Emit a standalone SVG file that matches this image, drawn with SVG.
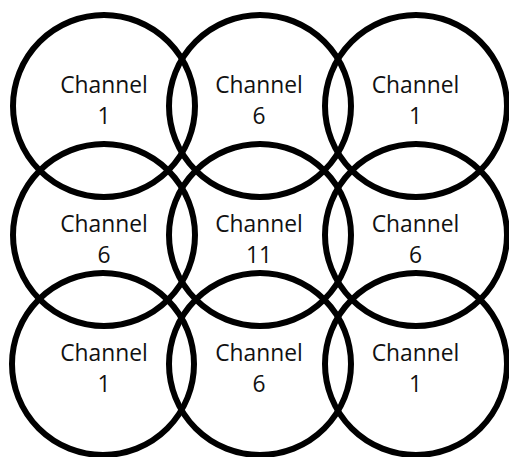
<svg xmlns="http://www.w3.org/2000/svg" width="509" height="457" viewBox="0 0 509 457">
<style>
.c{fill:none;stroke:#000;stroke-width:6}
.t{font-family:"Open Sans","Liberation Sans",sans-serif;font-size:22.8px;fill:#111;text-anchor:middle}
</style>
<rect width="509" height="457" fill="#fff"/>
<g id="n11"><circle class="c" cx="104" cy="106" r="91"/><text class="t" x="104" y="93">Channel</text><text class="t" x="104" y="124">1</text></g>
<g id="n12"><circle class="c" cx="260" cy="106" r="91"/><text class="t" x="259" y="93">Channel</text><text class="t" x="259" y="124">6</text></g>
<g id="n13"><circle class="c" cx="416" cy="106" r="91"/><text class="t" x="415.5" y="93">Channel</text><text class="t" x="415.5" y="124">1</text></g>
<g id="n21"><circle class="c" cx="104" cy="235" r="91"/><text class="t" x="104" y="232">Channel</text><text class="t" x="104" y="263">6</text></g>
<g id="n22"><circle class="c" cx="260" cy="235" r="91"/><text class="t" x="259" y="232">Channel</text><text class="t" x="259" y="263">11</text></g>
<g id="n23"><circle class="c" cx="416" cy="235" r="91"/><text class="t" x="415.5" y="232">Channel</text><text class="t" x="415.5" y="263">6</text></g>
<g id="n31"><circle class="c" cx="103" cy="364" r="91"/><text class="t" x="104" y="361">Channel</text><text class="t" x="104" y="392">1</text></g>
<g id="n32"><circle class="c" cx="260" cy="364" r="91"/><text class="t" x="259" y="361">Channel</text><text class="t" x="259" y="392">6</text></g>
<g id="n33"><circle class="c" cx="416" cy="364" r="91"/><text class="t" x="415.5" y="361">Channel</text><text class="t" x="415.5" y="392">1</text></g>
<g id="connectors"/>
</svg>
